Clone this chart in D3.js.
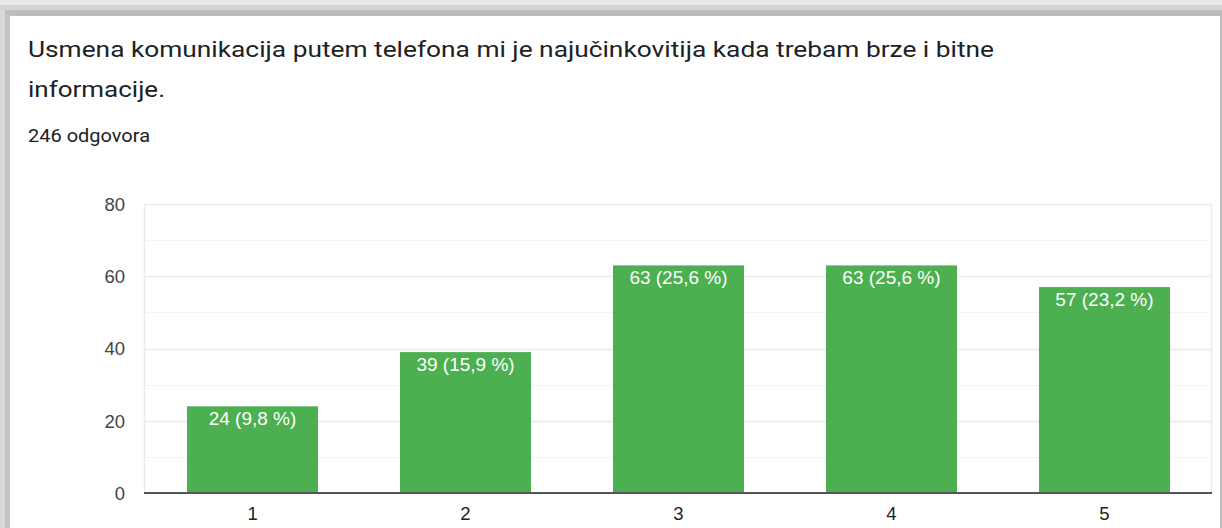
<!DOCTYPE html>
<html><head><meta charset="utf-8">
<script src="https://cdn.jsdelivr.net/npm/d3@7"></script>
<style>
html,body{margin:0;padding:0;background:#fff;}
svg{display:block;}
</style></head>
<body>
<svg id="chart" width="1222" height="528"></svg>
<script>
const titleLines = ["Usmena komunikacija putem telefona mi je najučinkovitija kada trebam brze i bitne", "informacije."];
const subtitle = "246 odgovora";
const categories = ["1", "2", "3", "4", "5"];
const counts = [24, 39, 63, 63, 57];
const percentLabels = ["9,8", "15,9", "25,6", "25,6", "23,2"];
const yTicks = [0, 20, 40, 60, 80];
const yMinorTicks = [10, 30, 50, 70];

(function(){
const svg = d3.select("#chart");
const W = 1222, H = 528;

// card shadow frame
svg.append("rect").attr("x",0).attr("y",0).attr("width",W).attr("height",H).attr("fill","#fff");
svg.append("rect").attr("x",0).attr("y",0).attr("width",W).attr("height",5).attr("fill","#e9e9e9");
svg.append("rect").attr("x",0).attr("y",5).attr("width",W).attr("height",5).attr("fill","#d4d4d4");
svg.append("rect").attr("x",0).attr("y",10).attr("width",W).attr("height",6).attr("fill","#bdbdbd");
svg.append("rect").attr("x",0).attr("y",10).attr("width",5).attr("height",H).attr("fill","#d8d8d8");
svg.append("rect").attr("x",5).attr("y",14).attr("width",5).attr("height",H).attr("fill","#c2c2c2");
svg.append("rect").attr("x",1220).attr("y",16).attr("width",2).attr("height",H).attr("fill","#bdbdbd");

// texts
const titleWidths = [966, 137];
svg.selectAll("text.title").data(titleLines).join("text")
  .attr("class","title")
  .attr("x",28).attr("y",(d,i)=>57+i*40)
  .attr("font-family","Roboto, 'Noto Sans', sans-serif")
  .attr("font-size",22).attr("fill","#202124")
  .attr("textLength",(d,i)=>titleWidths[i]).attr("lengthAdjust","spacingAndGlyphs")
  .text(d=>d);
svg.append("text").attr("x",28).attr("y",142)
  .attr("font-family","Roboto, sans-serif").attr("font-size",17.5).attr("fill","#202124")
  .attr("textLength",122).attr("lengthAdjust","spacingAndGlyphs")
  .text(subtitle);

const pLeft = 144, pRight = 1212, pTop = 204, pBottom = 493;
const x = d3.scaleBand().domain(categories).range([pLeft, pLeft + 1069]).paddingInner(0.385).paddingOuter(0.202);
const y = d3.scaleLinear().domain([0, 80]).range([pBottom, pTop]);

const g = svg.append("g");
g.selectAll("line.minor").data(yMinorTicks).join("line")
  .attr("class","minor")
  .attr("x1",pLeft).attr("x2",pRight).attr("y1",d=>Math.round(y(d))+0.5).attr("y2",d=>Math.round(y(d))+0.5)
  .attr("stroke","#f4f4f4").attr("stroke-width",1);
g.selectAll("line.major").data(yTicks.filter(d=>d>0)).join("line")
  .attr("class","major")
  .attr("x1",pLeft).attr("x2",pRight).attr("y1",d=>Math.round(y(d))+0.5).attr("y2",d=>Math.round(y(d))+0.5)
  .attr("stroke","#ebebeb").attr("stroke-width",1.5);
g.append("line").attr("x1",pLeft+0.5).attr("x2",pLeft+0.5).attr("y1",pTop).attr("y2",pBottom).attr("stroke","#ebebeb").attr("stroke-width",1.5);
g.append("line").attr("x1",pRight-0.5).attr("x2",pRight-0.5).attr("y1",pTop).attr("y2",pBottom).attr("stroke","#ebebeb").attr("stroke-width",1.5);

const data = categories.map((c,i)=>({c, v:counts[i], p:percentLabels[i]}));
g.selectAll("rect.bar").data(data).join("rect")
  .attr("class","bar")
  .attr("x",d=>x(d.c)).attr("width",x.bandwidth())
  .attr("y",d=>y(d.v)).attr("height",d=>y(0)-y(d.v))
  .attr("fill","#4caf50");
g.selectAll("text.lbl").data(data).join("text")
  .attr("class","lbl")
  .attr("x",d=>x(d.c)+x.bandwidth()/2).attr("y",d=>y(d.v)+19)
  .attr("text-anchor","middle")
  .attr("font-family","'Liberation Sans', Arial, sans-serif").attr("font-size",19)
  .attr("fill","#ffffff")
  .text(d=>`${d.v} (${d.p} %)`);

g.append("line").attr("x1",pLeft).attr("x2",pRight).attr("y1",pBottom).attr("y2",pBottom)
  .attr("stroke","#555").attr("stroke-width",2);

const yAxis = d3.axisLeft(y).tickValues(yTicks).tickSize(0).tickPadding(19);
const ya = svg.append("g").attr("transform",`translate(${pLeft},0)`).call(yAxis);
ya.select(".domain").remove();
ya.selectAll("text").attr("font-family","'Liberation Sans', Arial, sans-serif").attr("font-size",18.5).attr("fill","#444").attr("dy","0.35em");

const xAxis = d3.axisBottom(x).tickSize(0).tickPadding(14);
const xa = svg.append("g").attr("transform",`translate(0,${pBottom})`).call(xAxis);
xa.select(".domain").remove();
xa.selectAll("text").attr("font-family","'Liberation Sans', Arial, sans-serif").attr("font-size",18.5).attr("fill","#222");
})();
</script>
</body></html>
